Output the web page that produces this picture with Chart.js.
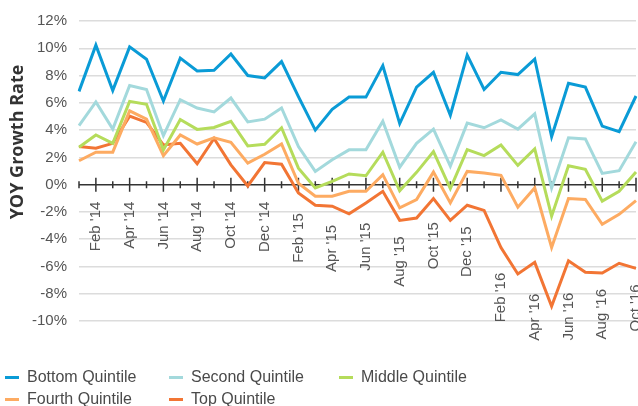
<!DOCTYPE html>
<html>
<head>
<meta charset="utf-8">
<script src="https://cdn.jsdelivr.net/npm/chart.js@4.4.1/dist/chart.umd.min.js"></script>
<style>
  body { margin: 0; background: #fff; }
  #wrap { position: relative; width: 638px; height: 406px; }
  #legend {
    position: absolute; left: 5px; top: 366px;
    display: grid; grid-template-columns: 164px 170px auto; row-gap: 0;
    font: 16px "Liberation Sans", Arial, sans-serif; color: #4a4a4a;
  }
  #legend div { display: flex; align-items: center; height: 22px; white-space: nowrap; }
  #legend span { display: inline-block; width: 14px; height: 3px; margin-right: 8px; }
</style>
</head>
<body>
<div id="wrap">
  <canvas id="chart"></canvas>
  <div id="legend"></div>
</div>
<script>
const months = [
  "Jan '14", "Feb '14", "Mar '14", "Apr '14", "May '14", "Jun '14", "Jul '14", "Aug '14", "Sep '14", "Oct '14", "Nov '14", "Dec '14",
  "Jan '15", "Feb '15", "Mar '15", "Apr '15", "May '15", "Jun '15", "Jul '15", "Aug '15", "Sep '15", "Oct '15", "Nov '15", "Dec '15",
  "Jan '16", "Feb '16", "Mar '16", "Apr '16", "May '16", "Jun '16", "Jul '16", "Aug '16", "Sep '16", "Oct '16"
];
const yTicks = [-10, -8, -6, -4, -2, 0, 2, 4, 6, 8, 10, 12];
const yTitle = "YOY Growth Rate";

const bottomQ = [6.84, 10.23, 6.91, 10.1, 9.2, 6.13, 9.28, 8.34, 8.39, 9.58, 8.0, 7.83, 9.02, 6.45, 4.0, 5.53, 6.42, 6.42, 8.73, 4.48, 7.15, 8.24, 5.09, 9.5, 6.98, 8.24, 8.07, 9.21, 3.52, 7.44, 7.15, 4.29, 3.88, 6.5];
const secondQ = [4.32, 6.06, 4.07, 7.27, 6.98, 3.59, 6.23, 5.62, 5.33, 6.35, 4.6, 4.8, 5.62, 2.79, 0.97, 1.82, 2.55, 2.55, 4.65, 1.28, 3.03, 4.07, 1.36, 4.51, 4.17, 4.75, 4.07, 5.19, -0.24, 3.44, 3.35, 0.82, 1.02, 3.15];
const middleQ = [2.74, 3.64, 3.03, 6.11, 5.89, 2.55, 4.78, 4.05, 4.19, 4.65, 2.84, 2.96, 4.17, 1.21, -0.24, 0.24, 0.78, 0.65, 2.38, -0.45, 0.9, 2.42, -0.29, 2.57, 2.13, 2.91, 1.41, 2.62, -2.31, 1.38, 1.12, -1.21, -0.49, 0.92];
const fourthQ = [1.75, 2.38, 2.38, 5.41, 4.8, 2.13, 3.64, 2.98, 3.44, 3.1, 1.58, 2.23, 2.98, 0.1, -0.85, -0.85, -0.49, -0.49, 0.73, -1.7, -1.09, 0.92, -1.34, 0.97, 0.85, 0.68, -1.65, -0.24, -4.61, -1.02, -1.09, -2.91, -2.18, -1.17];
const topQ = [2.79, 2.67, 3.03, 5.02, 4.56, 2.91, 3.03, 1.53, 3.39, 1.45, -0.1, 1.62, 1.5, -0.61, -1.51, -1.58, -2.14, -1.34, -0.49, -2.62, -2.45, -1.02, -2.62, -1.51, -1.89, -4.61, -6.55, -5.7, -8.92, -5.58, -6.43, -6.48, -5.77, -6.14];

const seriesNames = ["Bottom Quintile", "Second Quintile", "Middle Quintile", "Fourth Quintile", "Top Quintile"];
const seriesColors = ["#0a9bd6", "#a3d9dc", "#b5dc5b", "#fdab62", "#f27534"];
const series = [bottomQ, secondQ, middleQ, fourthQ, topQ];

const FONT = "'Liberation Sans', Arial, sans-serif";

const zeroAxis = {
  id: "zeroAxis",
  beforeDatasetsDraw(chart) {
    const { ctx, chartArea, scales: { x, y } } = chart;
    const y0 = y.getPixelForValue(0);
    ctx.save();
    ctx.strokeStyle = "#333";
    ctx.lineWidth = 1.5;
    ctx.beginPath();
    ctx.moveTo(chartArea.left, y0);
    ctx.lineTo(chartArea.right, y0);
    months.forEach((m, i) => {
      const px = x.getPixelForValue(i);
      const len = i % 2 === 1 ? 7 : 3.5;
      ctx.moveTo(px, y0 - len);
      ctx.lineTo(px, y0 + len);
    });
    ctx.stroke();
    ctx.restore();
  },
  afterDraw(chart) {
    const { ctx, chartArea, scales: { x, y } } = chart;
    const y0 = y.getPixelForValue(0);
    ctx.save();
    ctx.font = "15px " + FONT;
    ctx.fillStyle = "#555";
    ctx.textAlign = "right";
    ctx.textBaseline = "middle";
    months.forEach((m, i) => {
      if (i % 2 === 0) return;
      let low = 0;
      series.forEach(s => {
        [-1, 1].forEach(d => {
          const j = i + d;
          const v = j >= 0 && j < s.length ? s[i] + (s[j] - s[i]) * 0.35 : s[i];
          low = Math.min(low, v, s[i]);
        });
      });
      const labelTop = Math.max(y.getPixelForValue(low) + 16, y0 + 17);
      ctx.save();
      ctx.translate(x.getPixelForValue(i), labelTop);
      ctx.rotate(-Math.PI / 2);
      ctx.fillText(m, 0, 0);
      ctx.restore();
    });

    // axis title sits above the plot's middle in the original
    ctx.save();
    ctx.font = "bold 18px 'Open Sans', sans-serif";
    ctx.fillStyle = "#333";
    ctx.textAlign = "center";
    ctx.translate(17.5, chartArea.top + 121);
    ctx.rotate(-Math.PI / 2);
    ctx.fillText(yTitle, 0, 0);
    ctx.restore();
    ctx.restore();
  }
};

const chart = new Chart(document.getElementById("chart").getContext("2d"), {
  type: "line",
  data: {
    labels: months,
    datasets: series.map((s, i) => ({
      label: seriesNames[i],
      data: s,
      borderColor: seriesColors[i],
      backgroundColor: seriesColors[i],
      borderWidth: 3,
      pointRadius: 0,
      tension: 0,
      fill: false
    }))
  },
  options: {
    responsive: true,
    maintainAspectRatio: false,
    animation: false,
    layout: { padding: { top: 18, right: 2, bottom: 85, left: 0 } },
    plugins: { legend: { display: false }, tooltip: { enabled: false } },
    scales: {
      x: { display: false },
      y: {
        min: -10,
        max: 12,
        afterBuildTicks: s => { s.ticks = yTicks.map(v => ({ value: v })); },
        afterFit: s => { s.width = 79; },
        ticks: { callback: v => v + "%", padding: 12, color: "#555", font: { size: 15, family: FONT } },
        grid: {
          drawTicks: false,
          lineWidth: 1.5,
          color: c => (c.tick && c.tick.value === 0 ? "rgba(0,0,0,0)" : "#dcdcdc")
        },
        border: { display: false }
      }
    }
  },
  plugins: [zeroAxis]
});

const legend = document.getElementById("legend");
chart.data.datasets.forEach(ds => {
  const item = document.createElement("div");
  const sw = document.createElement("span");
  sw.style.background = ds.borderColor;
  item.appendChild(sw);
  item.appendChild(document.createTextNode(ds.label));
  legend.appendChild(item);
});
</script>
</body>
</html>
